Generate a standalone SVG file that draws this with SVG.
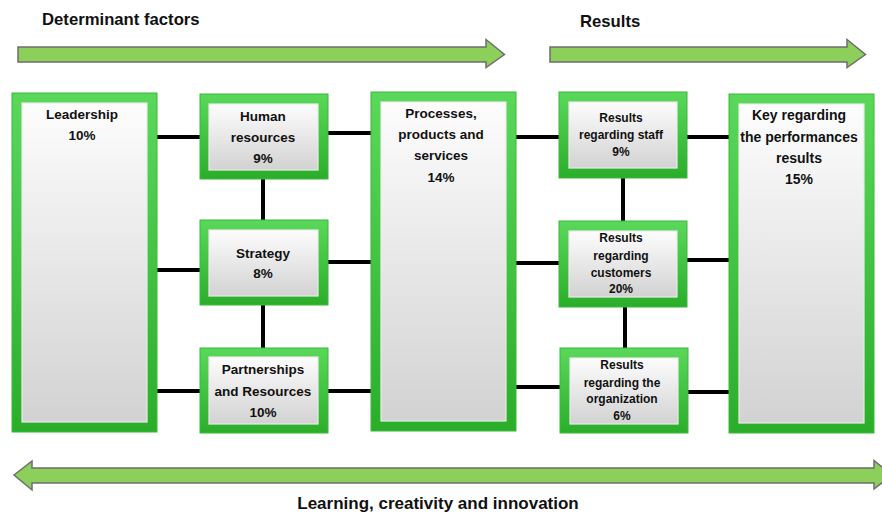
<svg xmlns="http://www.w3.org/2000/svg" width="882" height="515" viewBox="0 0 882 515">
<defs>
<linearGradient id="gOuter" x1="0" y1="0" x2="0" y2="1">
<stop offset="0" stop-color="#5ad85a"/>
<stop offset="1" stop-color="#2aae2a"/>
</linearGradient>
<linearGradient id="gInner" x1="0" y1="0" x2="0" y2="1">
<stop offset="0" stop-color="#fdfdfd"/>
<stop offset="1" stop-color="#d2d2d2"/>
</linearGradient>
</defs>
<style>
.outer{fill:url(#gOuter);stroke:#3cb83c;stroke-width:1}
.inner{fill:url(#gInner);stroke:#eaeaea;stroke-width:1.2}
.arrow{fill:#8ccf5a;stroke:#6e6e6e;stroke-width:1.5;stroke-linejoin:miter}
.t{font-family:"Liberation Sans",Arial,sans-serif;font-weight:bold;fill:#111;text-anchor:middle}
.b{font-size:13.5px}
.s{font-size:12px}
.k{font-size:14px}
.title{font-family:"Liberation Sans",Arial,sans-serif;font-weight:bold;font-size:16.7px;fill:#111}
.conn line{stroke:#000;stroke-width:4}
</style>
<rect width="882" height="515" fill="#fff"/>

<g id="arrows">
<path class="arrow" d="M18,47 H486 V39.5 L504.5,54.5 L486,67.5 V62 H18 Z"/>
<path class="arrow" d="M550,47 H847 V39.5 L865.5,54.5 L847,67.5 V62 H550 Z"/>
<path class="arrow" d="M14,475 L32,461 V468 H874 V460.5 L892,475 L874,489 V483 H32 V490 Z"/>
</g>

<text class="title" x="42" y="25">Determinant factors</text>
<text class="title" x="580" y="27">Results</text>
<text class="title" x="438" y="509" text-anchor="middle" font-size="17px" style="font-size:17px">Learning, creativity and innovation</text>

<g class="conn" id="connectors">
<line x1="157" y1="137" x2="200" y2="137"/>
<line x1="157" y1="270" x2="200" y2="270"/>
<line x1="157" y1="391" x2="200" y2="391"/>
<line x1="263" y1="179" x2="263" y2="220"/>
<line x1="263" y1="305" x2="263" y2="348"/>
<line x1="328" y1="133" x2="371" y2="133"/>
<line x1="328" y1="262" x2="371" y2="262"/>
<line x1="328" y1="391" x2="371" y2="391"/>
<line x1="516" y1="137" x2="559" y2="137"/>
<line x1="516" y1="263" x2="559" y2="263"/>
<line x1="516" y1="387" x2="560" y2="387"/>
<line x1="687" y1="137" x2="729" y2="137"/>
<line x1="687" y1="260" x2="729" y2="260"/>
<line x1="688" y1="392" x2="729" y2="392"/>
<line x1="623" y1="178" x2="623" y2="221"/>
<line x1="625" y1="307" x2="625" y2="348"/>
</g>

<g id="leadership">
<rect class="outer" x="12" y="93" width="145" height="339"/>
<rect class="inner" x="22" y="103" width="125" height="319"/>
<text class="t b" x="82" y="119">Leadership</text>
<text class="t b" x="82" y="140">10%</text>
</g>

<g id="human-resources">
<rect class="outer" x="200" y="94" width="128" height="85"/>
<rect class="inner" x="209" y="104" width="109" height="66"/>
<text class="t b" x="263" y="121">Human</text>
<text class="t b" x="263" y="142">resources</text>
<text class="t b" x="263" y="163">9%</text>
</g>

<g id="strategy">
<rect class="outer" x="200" y="220" width="128" height="85"/>
<rect class="inner" x="209" y="230" width="109" height="66"/>
<text class="t b" x="263" y="258">Strategy</text>
<text class="t b" x="263" y="278">8%</text>
</g>

<g id="partnerships">
<rect class="outer" x="200" y="348" width="128" height="85"/>
<rect class="inner" x="209" y="357" width="109" height="67"/>
<text class="t b" x="263" y="374">Partnerships</text>
<text class="t b" x="263" y="396">and Resources</text>
<text class="t b" x="263" y="417">10%</text>
</g>

<g id="processes">
<rect class="outer" x="371" y="92" width="145" height="339"/>
<rect class="inner" x="381" y="102" width="125" height="319"/>
<text class="t b" x="441" y="118">Processes,</text>
<text class="t b" x="441" y="139">products and</text>
<text class="t b" x="441" y="160">services</text>
<text class="t b" x="441" y="182">14%</text>
</g>

<g id="results-staff">
<rect class="outer" x="559" y="92" width="128" height="86"/>
<rect class="inner" x="569" y="102" width="108" height="66"/>
<text class="t s" x="621" y="122">Results</text>
<text class="t s" x="621" y="139">regarding staff</text>
<text class="t s" x="621" y="156">9%</text>
</g>

<g id="results-customers">
<rect class="outer" x="559" y="221" width="128" height="86"/>
<rect class="inner" x="569" y="231" width="108" height="66"/>
<text class="t s" x="621" y="242">Results</text>
<text class="t s" x="621" y="260">regarding</text>
<text class="t s" x="621" y="277">customers</text>
<text class="t s" x="621" y="293">20%</text>
</g>

<g id="results-organization">
<rect class="outer" x="560" y="348" width="128" height="85"/>
<rect class="inner" x="570" y="358" width="108" height="66"/>
<text class="t s" x="622" y="369">Results</text>
<text class="t s" x="622" y="387">regarding the</text>
<text class="t s" x="622" y="403">organization</text>
<text class="t s" x="622" y="420">6%</text>
</g>

<g id="key-results">
<rect class="outer" x="729" y="94" width="145" height="339"/>
<rect class="inner" x="739" y="104" width="125" height="319"/>
<text class="t k" x="799" y="120">Key regarding</text>
<text class="t k" x="799" y="142">the performances</text>
<text class="t k" x="799" y="163">results</text>
<text class="t k" x="799" y="184">15%</text>
</g>
</svg>
